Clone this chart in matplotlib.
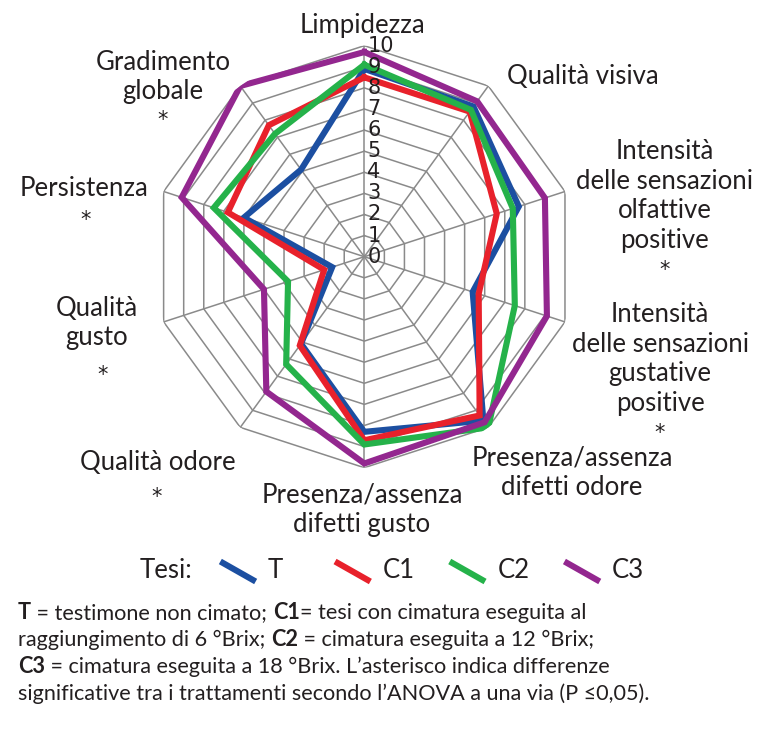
import matplotlib
matplotlib.use("Agg")
import matplotlib.pyplot as plt
import numpy as np
from matplotlib.lines import Line2D
from matplotlib.transforms import offset_copy

# ---- data -------------------------------------------------------------
categories = [
    "Limpidezza",
    "Qualità visiva",
    "Intensità\ndelle sensazioni\nolfattive\npositive",
    "Intensità\ndelle sensazioni\ngustative\npositive",
    "Presenza/assenza\ndifetti odore",
    "Presenza/assenza\ndifetti gusto",
    "Qualità odore",
    "Qualità\ngusto",
    "Persistenza",
    "Gradimento\nglobale",
]
significant = [False, False, True, True, False, False, True, True, True, True]

series_names = ["T", "C1", "C2", "C3"]
series_colors = ["#1c4fa1", "#e8212b", "#25b24a", "#93278f"]
values_T = [8.9, 8.8, 7.7, 5.4, 9.6, 8.3, 5.1, 1.6, 6.0, 5.1]
values_C1 = [8.5, 8.5, 6.6, 5.7, 9.3, 8.7, 5.2, 2.0, 6.8, 7.7]
values_C2 = [9.1, 8.6, 7.4, 7.5, 10.0, 8.9, 6.3, 3.8, 7.5, 7.2]
values_C3 = [9.7, 9.1, 9.0, 9.1, 9.7, 9.8, 7.9, 5.0, 9.1, 10.0]
rings = list(range(0, 11))

# ---- layout -----------------------------------------------------------
W, H = 774, 729
FONT = ["Lato", "DejaVu Sans"]
NUM_FONT = ["Liberation Sans Narrow", "DejaVu Sans"]
TXT = "#231f20"
GRID = "#8a8a8a"
LAB = 18.5

plt.rcParams["font.family"] = FONT


def fx(px):
    return px / W


def fy(py):
    return 1 - py / H


fig = plt.figure(figsize=(W / 100, H / 100), dpi=100)
cx, cy, R = 364.3, 256.7, 211
ax = fig.add_axes([fx(cx - R), fy(cy + R), 2 * R / W, 2 * R / H], projection="polar")
ax.set_theta_zero_location("N")
ax.set_theta_direction(-1)
ax.set_ylim(0, 10)
ax.set_axis_off()

n = len(categories)
angles = np.arange(n) * 2 * np.pi / n
closed = np.append(angles, angles[0])

# polygon grid
for r in rings[1:]:
    ax.plot(closed, [r] * (n + 1), color=GRID, lw=1.1, zorder=1)
for a in angles:
    ax.plot([a, a], [0, 10], color=GRID, lw=1.1, zorder=1)

# series
all_values = [values_T, values_C1, values_C2, values_C3]
for vals, name, col in zip(all_values, series_names, series_colors):
    ax.plot(closed, vals + vals[:1], color=col, lw=4.4, label=name,
            solid_joinstyle="miter", zorder=3)

# radial numbers
tick_tr = offset_copy(ax.transData, fig=fig, x=3, y=0, units="dots")
for r in rings:
    ax.text(0, r, str(r), transform=tick_tr, ha="left", va="center",
            fontsize=15, family=NUM_FONT, color=TXT, zorder=5)

# category labels
label_pos = [(362, 25), (583, 77), (665, 196), (660, 359), (572, 473),
             (362, 510), (158, 462), (97, 323), (84, 189), (163, 77)]
star_pos = {2: (665, 270), 3: (660, 433), 6: (157, 497), 7: (103, 375),
            8: (86, 220), 9: (163, 120)}
for i, (lab, (x, y)) in enumerate(zip(categories, label_pos)):
    fig.text(fx(x), fy(y), lab, ha="center", va="center", multialignment="center",
             fontsize=LAB, color=TXT, linespacing=1.22)
    if significant[i]:
        sx, sy = star_pos[i]
        fig.text(fx(sx), fy(sy), "*", ha="center", va="center", fontsize=15,
                 family=["DejaVu Sans"], color=TXT)

# legend
fig.text(fx(140), fy(570), "Tesi:", ha="left", va="center", fontsize=LAB, color=TXT)
for k, (name, col) in enumerate(zip(series_names, series_colors)):
    x0 = 223 + k * 114.7
    fig.add_artist(Line2D([fx(x0), fx(x0 + 30)], [fy(563), fy(580)],
                          transform=fig.transFigure, color=col, lw=4.4))
    fig.text(fx(x0 + 45), fy(570), name, ha="left", va="center", fontsize=LAB, color=TXT)

# caption with bold runs
renderer = fig.canvas.get_renderer()
caption = [
    [("T", "bold"), (" = testimone non cimato; ", "normal"), ("C1", "bold"),
     ("= tesi con cimatura eseguita al", "normal")],
    [("raggiungimento di 6 °Brix; ", "normal"), ("C2", "bold"),
     (" = cimatura eseguita a 12 °Brix;", "normal")],
    [("C3", "bold"), (" = cimatura eseguita a 18 °Brix. L’asterisco indica differenze", "normal")],
    [("significative tra i trattamenti secondo l’ANOVA a una via (P ≤0,05).", "normal")],
]
for j, line in enumerate(caption):
    x = fx(18)
    base = fy(619 + j * 27)
    for txt, wt in line:
        t = fig.text(x, base, txt, ha="left", va="baseline", fontsize=15.6,
                     fontweight=wt, color=TXT)
        x += t.get_window_extent(renderer).width / fig.bbox.width

fig.savefig("out.png", dpi=100, facecolor="white")
